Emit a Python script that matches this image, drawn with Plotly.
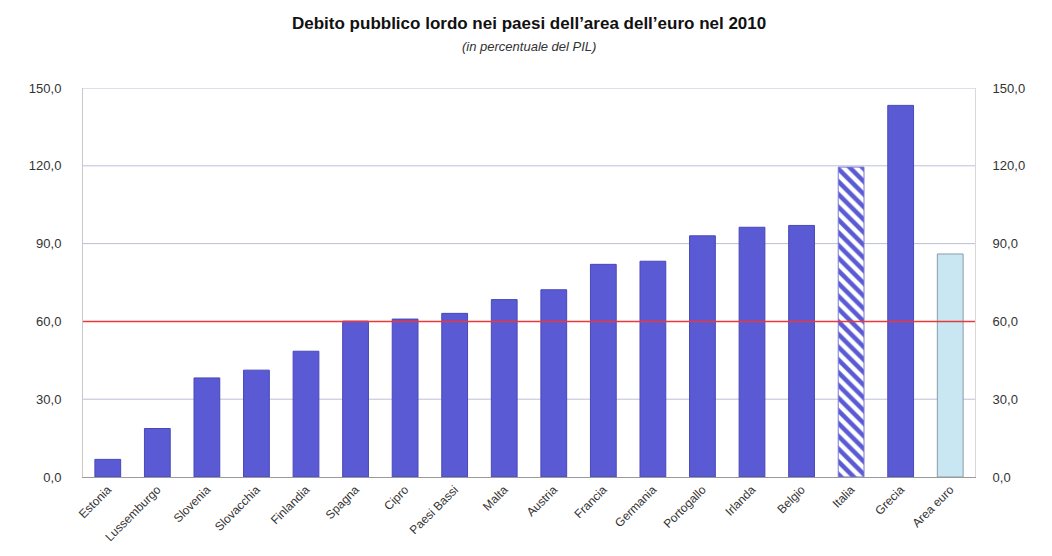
import plotly.graph_objects as go

paesi = ["Estonia", "Lussemburgo", "Slovenia", "Slovacchia", "Finlandia", "Spagna",
         "Cipro", "Paesi Bassi", "Malta", "Austria", "Francia", "Germania",
         "Portogallo", "Irlanda", "Belgio", "Italia", "Grecia", "Area euro"]
debito = [6.8, 18.7, 38.2, 41.2, 48.5, 60.1, 60.9, 63.1, 68.4, 72.2, 82.0, 83.2,
          93.0, 96.3, 97.0, 119.5, 143.3, 86.0]
tick_vals = [0, 30, 60, 90, 120, 150]
tick_text = ["0,0", "30,0", "60,0", "90,0", "120,0", "150,0"]
soglia = 60

BLUE = "#5a5ad4"
FONT = "Liberation Sans, Arial, sans-serif"

def pick(names):
    return [v if p in names else None for p, v in zip(paesi, debito)]

solid = [p for p in paesi if p not in ("Italia", "Area euro")]

fig = go.Figure()
fig.add_trace(go.Bar(
    x=paesi, y=pick(solid), width=0.52,
    marker=dict(color=BLUE, line=dict(color="#4848b8", width=1)),
    showlegend=False,
))
fig.add_trace(go.Bar(
    x=paesi, y=pick(["Italia"]), width=0.52,
    marker=dict(color="white", line=dict(color="#7a7ad8", width=1),
                pattern=dict(shape="\\", fgcolor=BLUE, bgcolor="white",
                             fgopacity=1, solidity=0.5, size=9, fillmode="replace")),
    showlegend=False,
))
fig.add_trace(go.Bar(
    x=paesi, y=pick(["Area euro"]), width=0.52,
    marker=dict(color="#c9e7f3", line=dict(color="#8a9aa8", width=1)),
    showlegend=False,
))
# invisible trace for right axis
fig.add_trace(go.Scatter(x=paesi, y=debito, yaxis="y2", mode="markers",
                         marker=dict(opacity=0), showlegend=False, hoverinfo="skip"))

# gridlines
for v in [30, 90, 120, 150]:
    fig.add_shape(type="line", xref="paper", yref="y", x0=0, x1=1, y0=v, y1=v,
                  line=dict(color="rgba(110,110,170,0.45)", width=1), layer="below")
fig.add_shape(type="line", xref="paper", yref="y", x0=0, x1=1, y0=soglia, y1=soglia,
              line=dict(color="#e83a3a", width=1.5), layer="above")

font_axis = dict(family=FONT, size=13, color="#333333")
fig.update_layout(
    width=1052, height=556,
    margin=dict(l=83, r=77, t=88, b=79),
    paper_bgcolor="white", plot_bgcolor="white",
    barmode="overlay",
    xaxis=dict(tickangle=-45, tickfont=dict(family=FONT, size=12, color="#333333"),
               showgrid=False, showline=True, linecolor="#9a9a9a", linewidth=1,
               ticks="", zeroline=False, range=[-0.5, 17.5]),
    yaxis=dict(range=[0, 150], tickvals=tick_vals, ticktext=tick_text,
               tickfont=font_axis, showgrid=False, zeroline=False,
               showline=True, linecolor="#c8c8c8", linewidth=1, ticks="",
               ticklabelstandoff=18),
    yaxis2=dict(range=[0, 150], tickvals=tick_vals, ticktext=tick_text,
                tickfont=font_axis, overlaying="y", side="right", showgrid=False,
                zeroline=False, showline=True, linecolor="#d8d8d8", linewidth=1,
                ticks="", ticklabelstandoff=14),
    annotations=[
        dict(text="<b>Debito pubblico lordo nei paesi dell’area dell’euro nel 2010</b>",
             xref="paper", yref="paper", x=0.5, y=1, yshift=65, showarrow=False,
             font=dict(family=FONT, size=17, color="#111111"),
             xanchor="center", yanchor="middle"),
        dict(text="<i>(in percentuale del PIL)</i>",
             xref="paper", yref="paper", x=0.5, y=1, yshift=42, showarrow=False,
             font=dict(family=FONT, size=13, color="#333333"),
             xanchor="center", yanchor="middle"),
    ],
)

fig.write_html("out.html")
